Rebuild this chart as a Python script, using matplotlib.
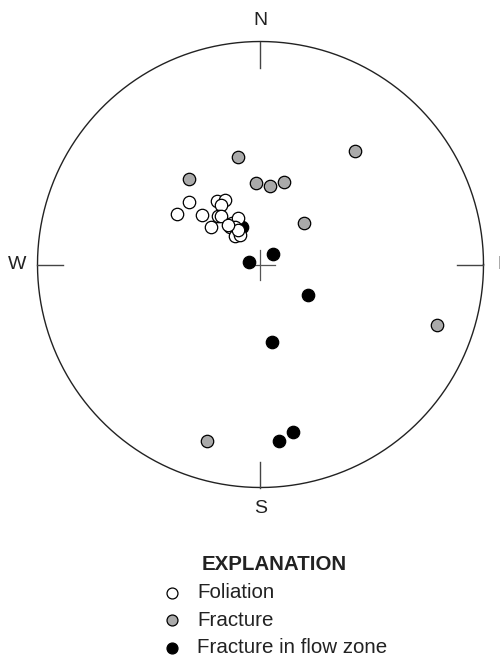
import numpy as np
import matplotlib
matplotlib.use("Agg")
import matplotlib.pyplot as plt

plt.rcParams["font.family"] = ["Liberation Sans", "DejaVu Sans"]

# stereonet coordinates (unit circle, x = east, y = north)
foliation_x = [-0.373, -0.321, -0.262, -0.222, -0.197, -0.159, -0.175, -0.191, -0.175,
               -0.137, -0.126, -0.101, -0.114, -0.114, -0.092, -0.101, -0.146]
foliation_y = [0.226, 0.279, 0.224, 0.166, 0.285, 0.289, 0.265, 0.217, 0.217,
               0.170, 0.184, 0.209, 0.170, 0.128, 0.132, 0.155, 0.177]

fracture_x = [-0.102, -0.321, -0.020, 0.043, 0.105, 0.195, 0.424, 0.790, -0.241]
fracture_y = [0.481, 0.383, 0.367, 0.353, 0.371, 0.185, 0.509, -0.273, -0.790]

flow_x = [-0.052, 0.055, 0.214, 0.050, 0.083, 0.144, -0.081]
flow_y = [0.010, 0.046, -0.138, -0.349, -0.791, -0.752, 0.166]

directions = ["N", "E", "S", "W"]
legend_labels = ["Foliation", "Fracture", "Fracture in flow zone"]

W, H = 500, 662
cx, cy, R = 260.5, 264.5, 223.0   # net centre and radius in pixels

fig = plt.figure(figsize=(W / 100, H / 100), dpi=100)
ax = fig.add_axes([0, 0, 1, 1])
ax.set_xlim((0 - cx) / R, (W - cx) / R)
ax.set_ylim((cy - H) / R, cy / R)
ax.axis("off")

# primitive circle
t = np.linspace(0, 2 * np.pi, 721)
ax.plot(np.cos(t), np.sin(t), color="#222222", lw=1.0)

# ticks and direction labels
tick = 26 / R
for name, ang in zip(directions, [90, 0, 270, 180]):
    a = np.deg2rad(ang)
    ux, uy = np.cos(a), np.sin(a)
    ax.plot([ux, ux * (1 - tick)], [uy, uy * (1 - tick)], color="#444444", lw=1.0)
    ax.text(ux * 1.092, uy * 1.092, name, ha="center", va="center",
            fontsize=14, color="#222222", clip_on=False)

# centre cross
c = 15 / R
ax.plot([-c, c], [0, 0], color="#555555", lw=0.9)
ax.plot([0, 0], [-c, c], color="#555555", lw=0.9)

ms = 80
h3 = ax.scatter(flow_x, flow_y, s=ms, c="black", edgecolors="black", linewidths=0.9, zorder=3)
h2 = ax.scatter(fracture_x, fracture_y, s=ms, c="#aaaaaa", edgecolors="black", linewidths=0.9, zorder=4)
h1 = ax.scatter(foliation_x, foliation_y, s=ms, c="white", edgecolors="black", linewidths=0.9, zorder=5)

leg = ax.legend([h1, h2, h3], legend_labels, title="EXPLANATION",
                loc="upper left", bbox_to_anchor=(151 / W, 1 - 545 / H),
                bbox_transform=fig.transFigure, frameon=False,
                fontsize=14.8, markerscale=0.88, handlelength=1.0,
                handletextpad=0.75, labelspacing=0.42, borderpad=0,
                title_fontproperties={"weight": "bold", "size": 14.8})
for txt in leg.get_texts():
    txt.set_color("#222222")
leg.get_title().set_color("#222222")

plt.savefig("out.png", dpi=100)
